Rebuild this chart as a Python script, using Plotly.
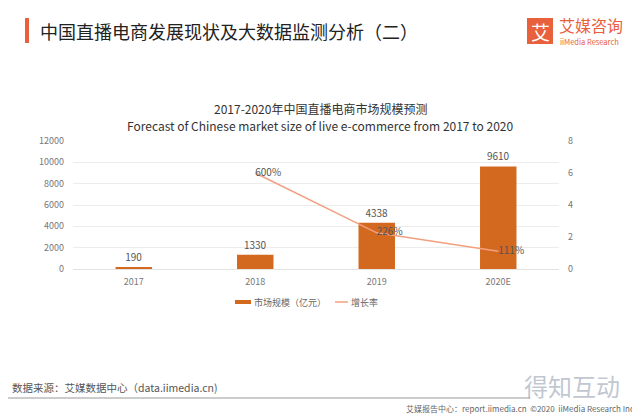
import plotly.graph_objects as go

categories = ["2017", "2018", "2019", "2020E"]
market_size = [190, 1330, 4338, 9610]
growth_rate = [None, 6.00, 2.26, 1.11]
growth_labels = ["", "600%", "226%", "111%"]
left_ticks = [0, 2000, 4000, 6000, 8000, 10000, 12000]
right_ticks = [0, 2, 4, 6, 8]
series_names = ["市场规模（亿元）", "增长率"]
chart_title_cn = "2017-2020年中国直播电商市场规模预测"
chart_title_en = "Forecast of Chinese market size of live e-commerce from 2017 to 2020"

# page body has an 8px margin: work in page pixels, convert to figure pixels
OFF = 8
W, H = 640 - OFF, 416 - OFF
L, R, T, B = 73 - OFF, 559 - OFF, 141 - OFF, 269 - OFF

def px(x):
    return (x - OFF - L) / (R - L)

def py(y):
    return (B - (y - OFF)) / (B - T)

FONT = "Noto Sans CJK SC, Noto Sans, sans-serif"
BAR = "#D2691F"
LINE = "#F2A080"
ORANGE = "#E8603C"

fig = go.Figure()
fig.add_trace(go.Bar(
    x=categories, y=market_size, name=series_names[0],
    marker=dict(color=BAR, line=dict(width=0)), width=0.3,
    text=[str(v) for v in market_size], textposition="outside",
    textfont=dict(size=10, color="#555", family=FONT), cliponaxis=False,
    showlegend=False,
))
fig.add_trace(go.Scatter(
    x=categories, y=growth_rate, name=series_names[1], yaxis="y2",
    mode="lines+text", line=dict(color=LINE, width=1.5),
    text=growth_labels, textposition="middle right",
    textfont=dict(size=10, color="#555", family=FONT), cliponaxis=False,
    showlegend=False,
))

shapes = [
    dict(type="rect", xref="paper", yref="paper",
         x0=px(25), x1=px(29), y0=py(43), y1=py(18),
         fillcolor=ORANGE, line=dict(width=0)),
    dict(type="rect", xref="paper", yref="paper",
         x0=px(527), x1=px(553), y0=py(44), y1=py(18),
         fillcolor=ORANGE, line=dict(width=0)),
    dict(type="line", xref="paper", yref="paper",
         x0=px(0), x1=px(530), y0=py(398), y1=py(398),
         line=dict(color="#999", width=1.2)),
    # legend swatches
    dict(type="rect", xref="paper", yref="paper",
         x0=px(235), x1=px(251), y0=py(304), y1=py(300),
         fillcolor=BAR, line=dict(width=0)),
    dict(type="line", xref="paper", yref="paper",
         x0=px(335), x1=px(348), y0=py(302), y1=py(302),
         line=dict(color=LINE, width=1.5)),
]

annotations = [
    dict(text="中国直播电商发展现状及大数据监测分析（二）", xref="paper", yref="paper",
         x=px(38), y=py(31), xanchor="left", yanchor="middle", showarrow=False,
         font=dict(size=18, color="#222", family=FONT)),
    dict(text="艾", xref="paper", yref="paper", x=px(540), y=py(31),
         xanchor="center", yanchor="middle", showarrow=False,
         font=dict(size=19, color="white", family=FONT)),
    dict(text="艾媒咨询", xref="paper", yref="paper", x=px(557), y=py(25),
         xanchor="left", yanchor="middle", showarrow=False,
         font=dict(size=16, color=ORANGE, family=FONT)),
    dict(text="iiMedia Research", xref="paper", yref="paper", x=px(558), y=py(41),
         xanchor="left", yanchor="middle", showarrow=False,
         font=dict(size=7.5, color=ORANGE, family=FONT)),
    dict(text=chart_title_cn, xref="paper", yref="paper", x=px(320), y=py(108),
         xanchor="center", yanchor="middle", showarrow=False,
         font=dict(size=12, color="#333", family=FONT)),
    dict(text=chart_title_en, xref="paper", yref="paper", x=px(320), y=py(125),
         xanchor="center", yanchor="middle", showarrow=False,
         font=dict(size=12, color="#333", family=FONT)),
    dict(text=series_names[0], xref="paper", yref="paper", x=px(252), y=py(302),
         xanchor="left", yanchor="middle", showarrow=False,
         font=dict(size=9, color="#666", family=FONT)),
    dict(text=series_names[1], xref="paper", yref="paper", x=px(349), y=py(302),
         xanchor="left", yanchor="middle", showarrow=False,
         font=dict(size=9, color="#666", family=FONT)),
    dict(text="数据来源：艾媒数据中心（data.iimedia.cn)", xref="paper", yref="paper",
         x=px(10), y=py(387), xanchor="left", yanchor="middle", showarrow=False,
         font=dict(size=10.5, color="#555", family=FONT)),
    dict(text="得知互动", xref="paper", yref="paper",
         x=px(572), y=py(385), xanchor="center", yanchor="middle", showarrow=False,
         font=dict(size=24, color="rgba(140,150,170,0.55)", family=FONT)),
    dict(text="艾媒报告中心：report.iimedia.cn  ©2020  iiMedia Research Inc", xref="paper", yref="paper",
         x=px(636), y=py(408), xanchor="right", yanchor="middle", showarrow=False,
         font=dict(size=8, color="#666", family=FONT)),
]

fig.update_layout(
    width=W, height=H,
    margin=dict(l=L, r=W - R, t=T, b=H - B, pad=0),
    paper_bgcolor="white", plot_bgcolor="white",
    font=dict(family=FONT, size=9, color="#777"),
    showlegend=False,
    xaxis=dict(type="category", showgrid=False, showline=True, linecolor="#e3e3e3",
               ticks="", tickfont=dict(size=9, color="#777"), ticklabelstandoff=4),
    yaxis=dict(range=[0, 12000], tickvals=left_ticks, tickformat="d", showgrid=True,
               gridcolor="#ececec", zeroline=False, showline=False, ticks="",
               ticklabelstandoff=8, tickfont=dict(size=9, color="#777")),
    yaxis2=dict(range=[0, 8], tickvals=right_ticks, overlaying="y", side="right",
                showgrid=False, zeroline=False, showline=False, ticks="",
                ticklabelstandoff=8, tickfont=dict(size=9, color="#777")),
    shapes=shapes, annotations=annotations,
)

fig.write_html("out.html")
